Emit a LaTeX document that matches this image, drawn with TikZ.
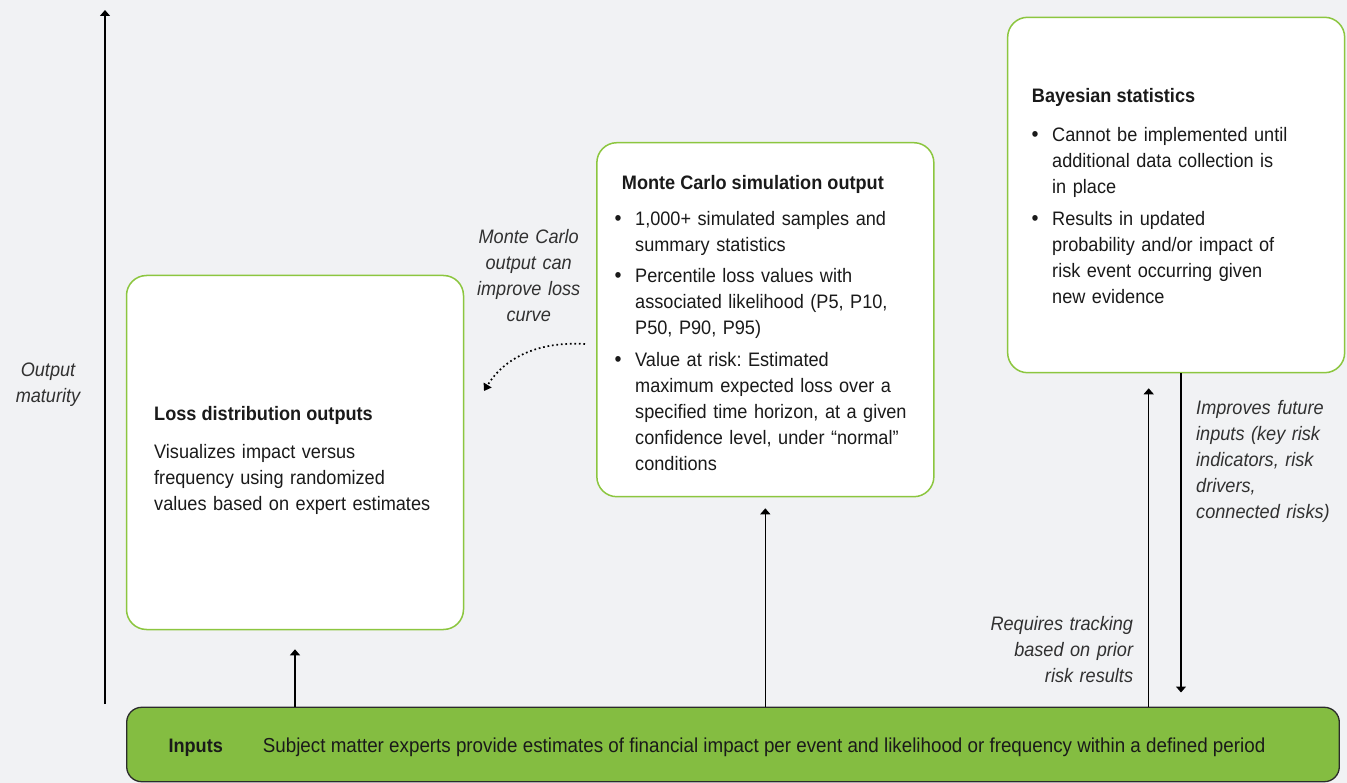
\documentclass[tikz,border=0pt]{standalone}
\usepackage{fontspec}
\setmainfont[FakeStretch=0.93]{Liberation Sans}
\usetikzlibrary{arrows.meta}

\definecolor{bg}{HTML}{F1F2F4}
\definecolor{boxline}{HTML}{8CC63F}
\definecolor{inputfill}{HTML}{84BD41}
\definecolor{ink}{HTML}{1A1A1A}
\definecolor{frame}{HTML}{2B2B2B}

% one bullet item: a dot hanging to the left of manually broken lines
\newcommand{\bitem}[1]{\hangindent=17pt\hangafter=1\noindent
  \makebox[17pt][l]{\makebox[0pt][c]{\scalebox{1.1}{\textbullet}}}#1\par}

\tikzset{
  body/.style={font=\fontsize{19.5}{26}\selectfont\frenchspacing, text=ink, inner sep=0pt},
  title/.style={body, font=\fontsize{19.5}{26}\selectfont\bfseries},
  note/.style={body, font=\fontsize{19.5}{26}\selectfont\itshape, text=ink!90},
  outbox/.style={draw=boxline, line width=1.5pt, fill=white, rounded corners=20pt,
                 minimum width=337pt, minimum height=354pt, inner sep=0pt},
  inbox/.style={draw=frame, line width=1.3pt, fill=inputfill, rounded corners=15pt,
                minimum width=1212.6pt, minimum height=74.4pt, inner sep=0pt},
  link/.style={draw=black, line width=1.3pt, -{Triangle[length=6pt,width=10pt]}},
  hint/.style={draw=black, line width=1.7pt, dash pattern=on 1.7pt off 2.8pt,
               -{Triangle[length=7pt,width=9pt]}},
}

\begin{document}
\begin{tikzpicture}[x=1pt, y=-1pt]
  % canvas
  \fill[bg] (0,0) rectangle (1347,783);
  \useasboundingbox (0,0) rectangle (1347,783);

  % vertical maturity axis
  \coordinate (axisbottom) at (105,704);
  \coordinate (axistop) at (105,10);
  \draw[link] (axisbottom) -- (axistop);
  \node[note, text width=90pt, align=center, anchor=base] (axislabel) at (48,376.7)
    {Output\\maturity};

  % output boxes
  \node[outbox] (loss) at (295,452.5) {};
  \node[outbox] (mc) at (765.35,319.7) {};
  \node[outbox, minimum height=355.4pt] (bayes) at (1176.15,195) {};

  % inputs bar
  \node[inbox] (inputs) at (733,744.5) {};
  \node[title, anchor=base west] (inputslabel) at (168.3,752.3) {Inputs};
  \node[body, font=\fontsize{20.2}{26}\selectfont, anchor=base west] (inputstext) at (262.7,752.3)
    {Subject matter experts provide estimates of financial impact per event and likelihood or frequency within a defined period};

  % loss distribution box
  \node[title, anchor=base west] (losstitle) at (154,420.7) {Loss distribution outputs};
  \node[body, text width=300pt, align=left, anchor=base west] (losstext) at (154,458.3)
    {Visualizes impact versus\\frequency using randomized\\values based on expert estimates};

  % Monte Carlo box
  \node[title, anchor=base west] (mctitle) at (621.7,189.3) {Monte Carlo simulation output};
  \node[body, anchor=base west, text width=340pt] (mctext) at (618,225.7) {%
    \bitem{1,000+ simulated samples and\newline summary statistics}\vspace{5pt}
    \bitem{Percentile loss values with\newline associated likelihood (P5, P10,\newline P50, P90, P95)}\vspace{5.5pt}
    \bitem{Value at risk: Estimated\newline maximum expected loss over a\newline specified time horizon, at a given\newline confidence level, under “normal”\newline conditions}};

  % Bayesian box
  \node[title, anchor=base west] (bayestitle) at (1031.7,102.7) {Bayesian statistics};
  \node[body, anchor=base west, text width=340pt] (bayestext) at (1035,141.7) {%
    \bitem{Cannot be implemented until\newline additional data collection is\newline in place}\vspace{6pt}
    \bitem{Results in updated\newline probability and/or impact of\newline risk event occurring given\newline new evidence}};

  % connectors from the inputs bar
  \coordinate (losstip) at (295,649.3);
  \coordinate (mctip) at (765.3,508.3);
  \coordinate (bayesup) at (1148.7,388.3);
  \coordinate (bayesdown) at (1181,692.5);
  \draw[link] (inputs.north -| losstip) -- (losstip);
  \draw[link] (inputs.north -| mctip) -- (mctip);
  \draw[link] (inputs.north -| bayesup) -- (bayesup);
  \draw[link] (bayes.south -| bayesdown) -- (bayesdown);

  % feedback from simulation to loss curve
  \coordinate (hintstart) at (585,344);
  \coordinate (hintend) at (484,391);
  \draw[hint] (hintstart) .. controls (535,341) and (503,360) .. (hintend);
  \node[note, text width=130pt, align=center, anchor=base] (hintlabel) at (528.7,243.3)
    {Monte Carlo\\output can\\improve loss\\curve};

  % side notes on the Bayesian loop
  \node[note, text width=150pt, align=left, anchor=base west] (improves) at (1196,414.3)
    {Improves future\\inputs (key risk\\indicators, risk\\drivers,\\connected risks)};
  \node[note, text width=170pt, align=right, anchor=base east] (requires) at (1133.3,630.7)
    {Requires tracking\\based on prior\\risk results};
\end{tikzpicture}
\end{document}
